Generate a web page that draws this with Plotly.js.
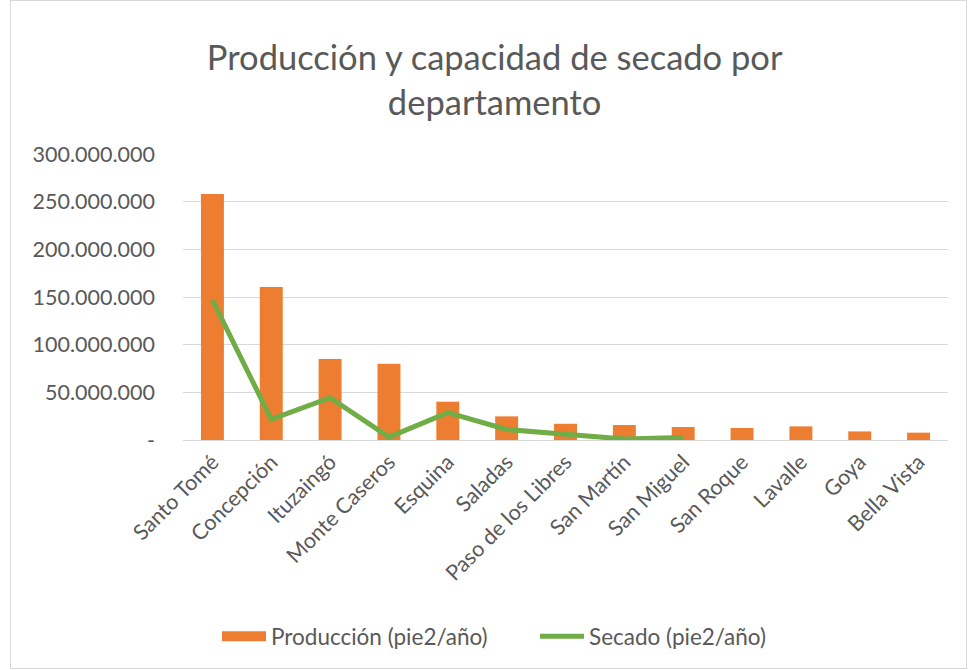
<!DOCTYPE html>
<html><head><meta charset="utf-8">
<script src="https://cdn.plot.ly/plotly-3.0.1.min.js"></script>
<style>
html,body{margin:0;padding:0;background:#fff;}
#wrap{position:relative;width:968px;height:670px;}
#chart{width:968px;height:670px;}
#frame{position:absolute;left:10px;top:0px;width:955px;height:667px;border:1px solid #d9d9d9;pointer-events:none;}
</style></head>
<body><div id="wrap"><div id="chart"></div><div id="frame"></div></div>
<script>
const categories = ["Santo Tomé","Concepción","Ituzaingó","Monte Caseros","Esquina","Saladas","Paso de los Libres","San Martín","San Miguel","San Roque","Lavalle","Goya","Bella Vista"];
const produccion = [258000000,160500000,85000000,80000000,40200000,24800000,17000000,15700000,13600000,12600000,14300000,9000000,7700000];
const secado = [147000000,21700000,44400000,3000000,28700000,11000000,6000000,1000000,2500000,null,null,null,null];
const tickVals = [0,50000000,100000000,150000000,200000000,250000000,300000000];
const tickText = ["-","50.000.000","100.000.000","150.000.000","200.000.000","250.000.000","300.000.000"];

const font = "Lato, 'Open Sans', sans-serif";
const traces = [
  {type:'bar', name:'Producción (pie2/año)', x:categories, y:produccion, marker:{color:'#ed7d31'}, showlegend:false},
  {type:'scatter', mode:'lines', name:'Producción (pie2/año)', x:[categories[0]], y:[null], line:{color:'#ed7d31', width:15}, hoverinfo:'skip'},
  {type:'scatter', mode:'lines', name:'Secado (pie2/año)', x:categories, y:secado, line:{color:'#70ad47', width:5}, connectgaps:false}
];
const layout = {
  width:968, height:670,
  margin:{l:183, r:20, t:154, b:230},
  paper_bgcolor:'#fff', plot_bgcolor:'#fff',
  font:{family:font, color:'#595959', size:21.5},
  title:{text:'Producción y capacidad de secado por<br>departamento', font:{family:font, size:34.5, color:'#595959'}, x:0.511, xanchor:'center', xref:'container', y:0.895, yref:'container', yanchor:'middle'},
  bargap:0.61,
  xaxis:{type:'category', tickangle:-45, tickfont:{size:21.5, color:'#595959'}, showgrid:false, zeroline:false, showline:true, linecolor:'#d9d9d9', linewidth:1, ticks:''},
  yaxis:{range:[0,300000000], tickvals:tickVals, ticktext:tickText, tickfont:{size:21.5, color:'#595959'}, gridcolor:'#d9d9d9', gridwidth:1, zeroline:false, showline:false, ticks:'', ticklabelstandoff:27},
  legend:{orientation:'h', x:217/968, xanchor:'left', xref:'container', y:0.05, yref:'container', yanchor:'middle', font:{size:22.5, color:'#595959'}, traceorder:'normal', itemwidth:44, entrywidth:259},
  showlegend:true
};
Plotly.newPlot('chart', traces, layout, {displayModeBar:false, staticPlot:true});
</script></body></html>
